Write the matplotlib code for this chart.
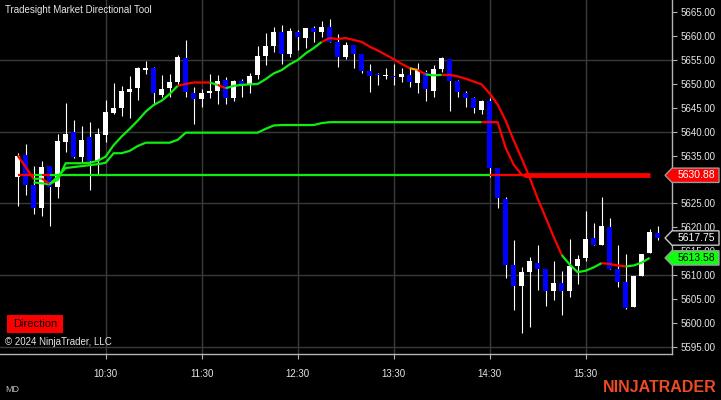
import numpy as np
import pandas as pd
import matplotlib
matplotlib.use("Agg")
import matplotlib.pyplot as plt
from matplotlib.patches import Polygon, Rectangle
from matplotlib.transforms import blended_transform_factory

plt.rcParams['font.family'] = ['Liberation Sans', 'DejaVu Sans']

# 5 minute bars, 09:35 .. 16:15
times = pd.date_range("2024-09-20 09:35", periods=81, freq="5min")

opens = [5630.5, 5635.1, 5628.9, 5624.1, 5632.8, 5628.5, 5637.9, 5640.0, 5634.7, 5638.8,
         5633.9, 5639.3, 5643.9, 5645.0, 5648.4, 5649.2, 5653.0, 5653.3, 5647.7, 5649.2,
         5650.4, 5655.4, 5648.1, 5646.9, 5648.2, 5648.5, 5650.8, 5647.1, 5650.6, 5650.0,
         5651.9, 5655.9, 5658.0, 5660.9, 5656.3, 5660.9, 5659.6, 5661.7, 5660.9, 5661.9,
         5658.8, 5655.7, 5658.2, 5656.3, 5652.7, 5651.9, 5651.6, 5651.7, 5651.5, 5651.9,
         5650.2, 5652.6, 5648.6, 5653.2, 5655.2, 5650.6, 5648.2, 5647.1, 5644.6, 5646.4,
         5632.5, 5625.9, 5612.0, 5607.6, 5610.6, 5612.5, 5611.2, 5606.7, 5608.3, 5606.7,
         5611.9, 5613.6, 5617.8, 5616.3, 5620.1, 5611.2, 5608.5, 5603.4, 5609.8, 5614.6,
         5618.8]
highs = [5635.5, 5637.4, 5632.8, 5633.9, 5632.8, 5639.5, 5646.0, 5642.5, 5641.2, 5642.0,
         5640.8, 5646.6, 5650.2, 5649.6, 5651.7, 5653.6, 5654.8, 5653.5, 5651.9, 5652.1,
         5656.1, 5659.2, 5649.4, 5648.9, 5652.1, 5651.9, 5651.5, 5650.8, 5651.0, 5652.3,
         5658.0, 5660.7, 5661.9, 5662.4, 5661.7, 5661.3, 5661.7, 5662.1, 5663.2, 5663.6,
         5660.5, 5658.8, 5658.2, 5656.3, 5654.2, 5652.3, 5653.4, 5654.2, 5653.4, 5653.4,
         5654.4, 5652.9, 5654.0, 5655.6, 5655.2, 5650.8, 5648.6, 5647.3, 5646.7, 5647.1,
         5632.5, 5626.3, 5617.3, 5611.7, 5613.8, 5616.3, 5611.2, 5612.9, 5610.8, 5617.5,
         5614.2, 5623.4, 5620.8, 5626.3, 5621.9, 5616.3, 5614.5, 5609.9, 5614.4, 5619.7,
         5620.2]
lows = [5624.5, 5626.8, 5622.8, 5622.4, 5620.3, 5626.2, 5635.8, 5634.5, 5633.7, 5627.8,
        5631.2, 5637.9, 5643.7, 5643.2, 5642.9, 5646.6, 5652.0, 5645.6, 5647.3, 5647.3,
        5649.8, 5647.3, 5641.6, 5645.2, 5647.1, 5645.8, 5645.8, 5646.4, 5647.3, 5648.1,
        5651.0, 5654.0, 5656.7, 5654.2, 5655.7, 5657.1, 5657.5, 5658.8, 5659.8, 5658.8,
        5653.6, 5655.2, 5653.4, 5652.3, 5648.3, 5649.8, 5651.1, 5649.8, 5650.4, 5649.4,
        5648.2, 5646.5, 5647.3, 5652.4, 5644.4, 5647.3, 5645.2, 5644.0, 5643.8, 5630.6,
        5624.1, 5609.4, 5602.7, 5597.9, 5599.2, 5606.9, 5603.6, 5604.8, 5601.7, 5605.3,
        5608.2, 5612.9, 5616.3, 5616.3, 5611.2, 5607.4, 5602.8, 5603.4, 5609.7, 5614.6,
        5617.3]
closes = [5634.9, 5628.9, 5624.1, 5632.6, 5628.5, 5638.1, 5639.5, 5634.7, 5638.3, 5633.9,
          5639.5, 5644.2, 5645.0, 5648.5, 5648.9, 5653.3, 5653.2, 5648.0, 5648.9, 5650.4,
          5655.6, 5648.3, 5646.9, 5648.1, 5648.3, 5650.6, 5647.1, 5650.6, 5649.8, 5651.7,
          5655.9, 5658.0, 5660.9, 5656.3, 5661.1, 5659.8, 5661.7, 5660.9, 5661.9, 5658.8,
          5655.7, 5658.2, 5656.3, 5652.7, 5651.7, 5651.8, 5651.7, 5651.5, 5652.1, 5650.5,
          5652.9, 5648.9, 5653.1, 5655.4, 5650.7, 5648.4, 5647.1, 5645.0, 5646.4, 5632.5,
          5626.2, 5612.2, 5607.6, 5610.6, 5612.9, 5611.3, 5606.7, 5608.3, 5606.7, 5611.9,
          5613.4, 5617.5, 5616.3, 5620.3, 5611.2, 5608.6, 5603.2, 5609.9, 5614.4, 5619.0,
          5617.75]

# fast directional line, bars 0..79
fast_line = [5635.0, 5632.6, 5630.1, 5630.2, 5629.1, 5629.9, 5633.4, 5633.4, 5633.4, 5633.5,
             5633.9, 5634.8, 5637.2, 5639.0, 5640.6, 5642.3, 5644.2, 5645.6, 5646.5, 5647.9,
             5649.6, 5650.0, 5650.3, 5650.3, 5650.3, 5649.8, 5649.1, 5649.6, 5649.8, 5649.9,
             5650.0, 5651.0, 5652.2, 5652.9, 5654.1, 5655.0, 5656.4, 5657.5, 5658.8, 5659.6,
             5659.4, 5659.6, 5659.2, 5658.8, 5657.8, 5657.0, 5656.1, 5655.2, 5654.2, 5653.3,
             5652.9, 5652.0, 5651.8, 5651.9, 5651.9, 5651.6, 5651.1, 5650.5, 5649.9, 5648.0,
             5645.7, 5642.3, 5638.2, 5634.4, 5630.4, 5626.0, 5622.0, 5618.0, 5614.2, 5612.2,
             5610.6, 5610.9, 5611.6, 5612.5, 5612.3, 5612.0, 5611.8, 5612.0, 5612.6, 5613.58]
fast_segs = [(0, 2, 'red'), (2, 3, 'green'), (3, 4, 'red'), (4, 20, 'green'), (20, 24, 'red'),
             (24, 25, 'green'), (25, 26, 'red'), (26, 38, 'green'), (38, 49, 'red'),
             (49, 50, 'orange'), (50, 51, 'red'), (51, 53, 'green'), (53, 68, 'red'),
             (68, 73, 'green'), (73, 76, 'red'), (76, 79, 'green')]

# medium stepped line, starts at bar 2
mid_start = 2
mid_line = [5629.4, 5629.2, 5629.0, 5630.6, 5632.4, 5632.6, 5632.8, 5633.0, 5633.2, 5633.5,
            5635.5, 5635.5, 5636.0, 5637.0, 5637.7, 5637.7, 5637.7, 5637.7, 5638.3, 5639.8,
            5639.8, 5639.8, 5639.8, 5639.8, 5639.8, 5639.8, 5639.8, 5639.8, 5639.8, 5640.6,
            5641.3, 5641.4, 5641.4, 5641.4, 5641.4, 5641.4, 5641.8, 5642.0, 5642.0, 5642.0,
            5642.0, 5642.0, 5642.0, 5642.0, 5642.0, 5642.0, 5642.0, 5642.0, 5642.0, 5642.0,
            5642.0, 5642.0, 5642.0, 5642.0, 5642.0, 5642.0, 5642.0, 5642.0, 5642.0, 5636.6,
            5633.1, 5631.0, 5630.4]
mid_segs = [(2, 58, 'green'), (58, 64, 'red')]

stop_level = 5630.88
stop_segs = [(0, 2, 'red'), (2, 3, 'green'), (3, 4, 'red'), (4, 59, 'green'), (59, 79, 'red')]
stop_thick_from = 63.3

last_price = 5617.75
fast_last = 5613.58

COL = {'red': '#ff0000', 'green': '#10ee10', 'orange': '#ff9a00'}
BLUE = '#0000ff'
GRID = '#3a3a3a'
AXC = '#b4b4b4'
TXT = '#e6e6e6'

W, H = 721, 400
fig = plt.figure(figsize=(W / 100, H / 100), dpi=100, facecolor='black')
ax = fig.add_axes([0, 46 / H, 672 / W, 354 / H], facecolor='black')

x = np.arange(len(opens))

# grid
for p in [5595, 5610, 5625, 5640, 5655]:
    ax.axhline(p, color=GRID, lw=1.0, zorder=0)
tick_bars = [i for i, t in enumerate(times) if t.minute == 30]
for b in tick_bars:
    ax.axvline(b, color=GRID, lw=1.0, zorder=0)

# candles
for i in x:
    o, h, l, c = opens[i], highs[i], lows[i], closes[i]
    up = c >= o
    col = 'white' if up else BLUE
    ax.vlines(i, l, h, color='white', lw=0.8, zorder=2)
    lo = min(o, c)
    hgt = max(abs(c - o), 0.25)
    ax.bar(i, hgt, bottom=lo, width=0.62, color=col, lw=0, zorder=3)


def draw_segs(vals, segs, lw=1.6):
    for s, e, c in segs:
        ax.plot(x[s:e + 1], vals[s:e + 1], color=COL[c], lw=lw, zorder=5,
                solid_capstyle='butt', solid_joinstyle='round')


fast = np.array(fast_line + [np.nan])
mid = np.full(len(x), np.nan)
mid[mid_start:mid_start + len(mid_line)] = mid_line
stop = np.full(len(x), stop_level)

draw_segs(stop, stop_segs)
ax.plot([stop_thick_from, 79], [stop_level, stop_level], color=COL['red'], lw=3.4, zorder=5,
        solid_capstyle='butt')
draw_segs(mid, mid_segs)
draw_segs(fast, fast_segs)

ax.set_xlim(-2.21, 81.79)
ax.set_ylim(5593.47, 5667.57)

for s in ['top', 'left']:
    ax.spines[s].set_visible(False)
for s in ['right', 'bottom']:
    ax.spines[s].set_color(AXC)
    ax.spines[s].set_linewidth(1.0)

# the 5630.00 label sits fully under the red tag, so it is left blank
yt = np.arange(5595, 5666, 5)
ax.yaxis.tick_right()
ax.set_yticks(yt)
ax.set_yticklabels(["" if v == 5630 else f"{v:.2f}" for v in yt])
ax.tick_params(axis='y', length=3.5, width=0.8, color=AXC, labelcolor=TXT, labelsize=7, pad=2.5)
ax.set_xticks(tick_bars)
ax.set_xticklabels([times[b].strftime('%H:%M') for b in tick_bars])
ax.tick_params(axis='x', length=3.5, width=0.8, color=AXC, labelcolor=TXT, labelsize=7, pad=7)

# price tags on the right axis
bt = blended_transform_factory(fig.transFigure, ax.transData)


def price_tag(price, face, edge, tcol):
    hh = 1.5
    pts = [(665 / W, price), (672 / W, price + hh), (719 / W, price + hh),
           (719 / W, price - hh), (672 / W, price - hh)]
    poly = Polygon(pts, closed=True, facecolor=face, edgecolor=edge, lw=1.0,
                   transform=bt, clip_on=False, zorder=10)
    ax.add_patch(poly)
    ax.text(696 / W, price, f"{price:.2f}", transform=bt, ha='center', va='center',
            color=tcol, fontsize=7.5, clip_on=False, zorder=11)


price_tag(stop_level, COL['red'], '#9a9a9a', 'white')
price_tag(last_price, 'black', '#c8c8c8', 'white')
price_tag(fast_last, '#10ff10', '#9a9a9a', 'black')

# texts
fig.text(5 / W, 1 - 10 / H, "Tradesight Market Directional Tool", color=TXT, fontsize=7,
         ha='left', va='center')
fig.patches.append(Rectangle((7 / W, 1 - 333 / H), 56 / W, 18 / H, transform=fig.transFigure,
                             facecolor='#ff0000', edgecolor='none', figure=fig))
fig.text(35 / W, 1 - 324 / H, "Direction", color='black', fontsize=8, ha='center', va='center')
fig.text(5 / W, 1 - 342 / H, "\u00a9 2024 NinjaTrader, LLC", color=TXT, fontsize=7,
         ha='left', va='center')
fig.text(5 / W, 1 - 389 / H, "MD", color='#bdbdbd', fontsize=6.5, ha='left', va='center')
fig.text(717 / W, 1 - 388 / H, "NINJATRADER", color='#ee4a24', fontsize=11.5,
         fontweight='bold', ha='right', va='center')

fig.savefig("out.png", dpi=100, facecolor='black')
